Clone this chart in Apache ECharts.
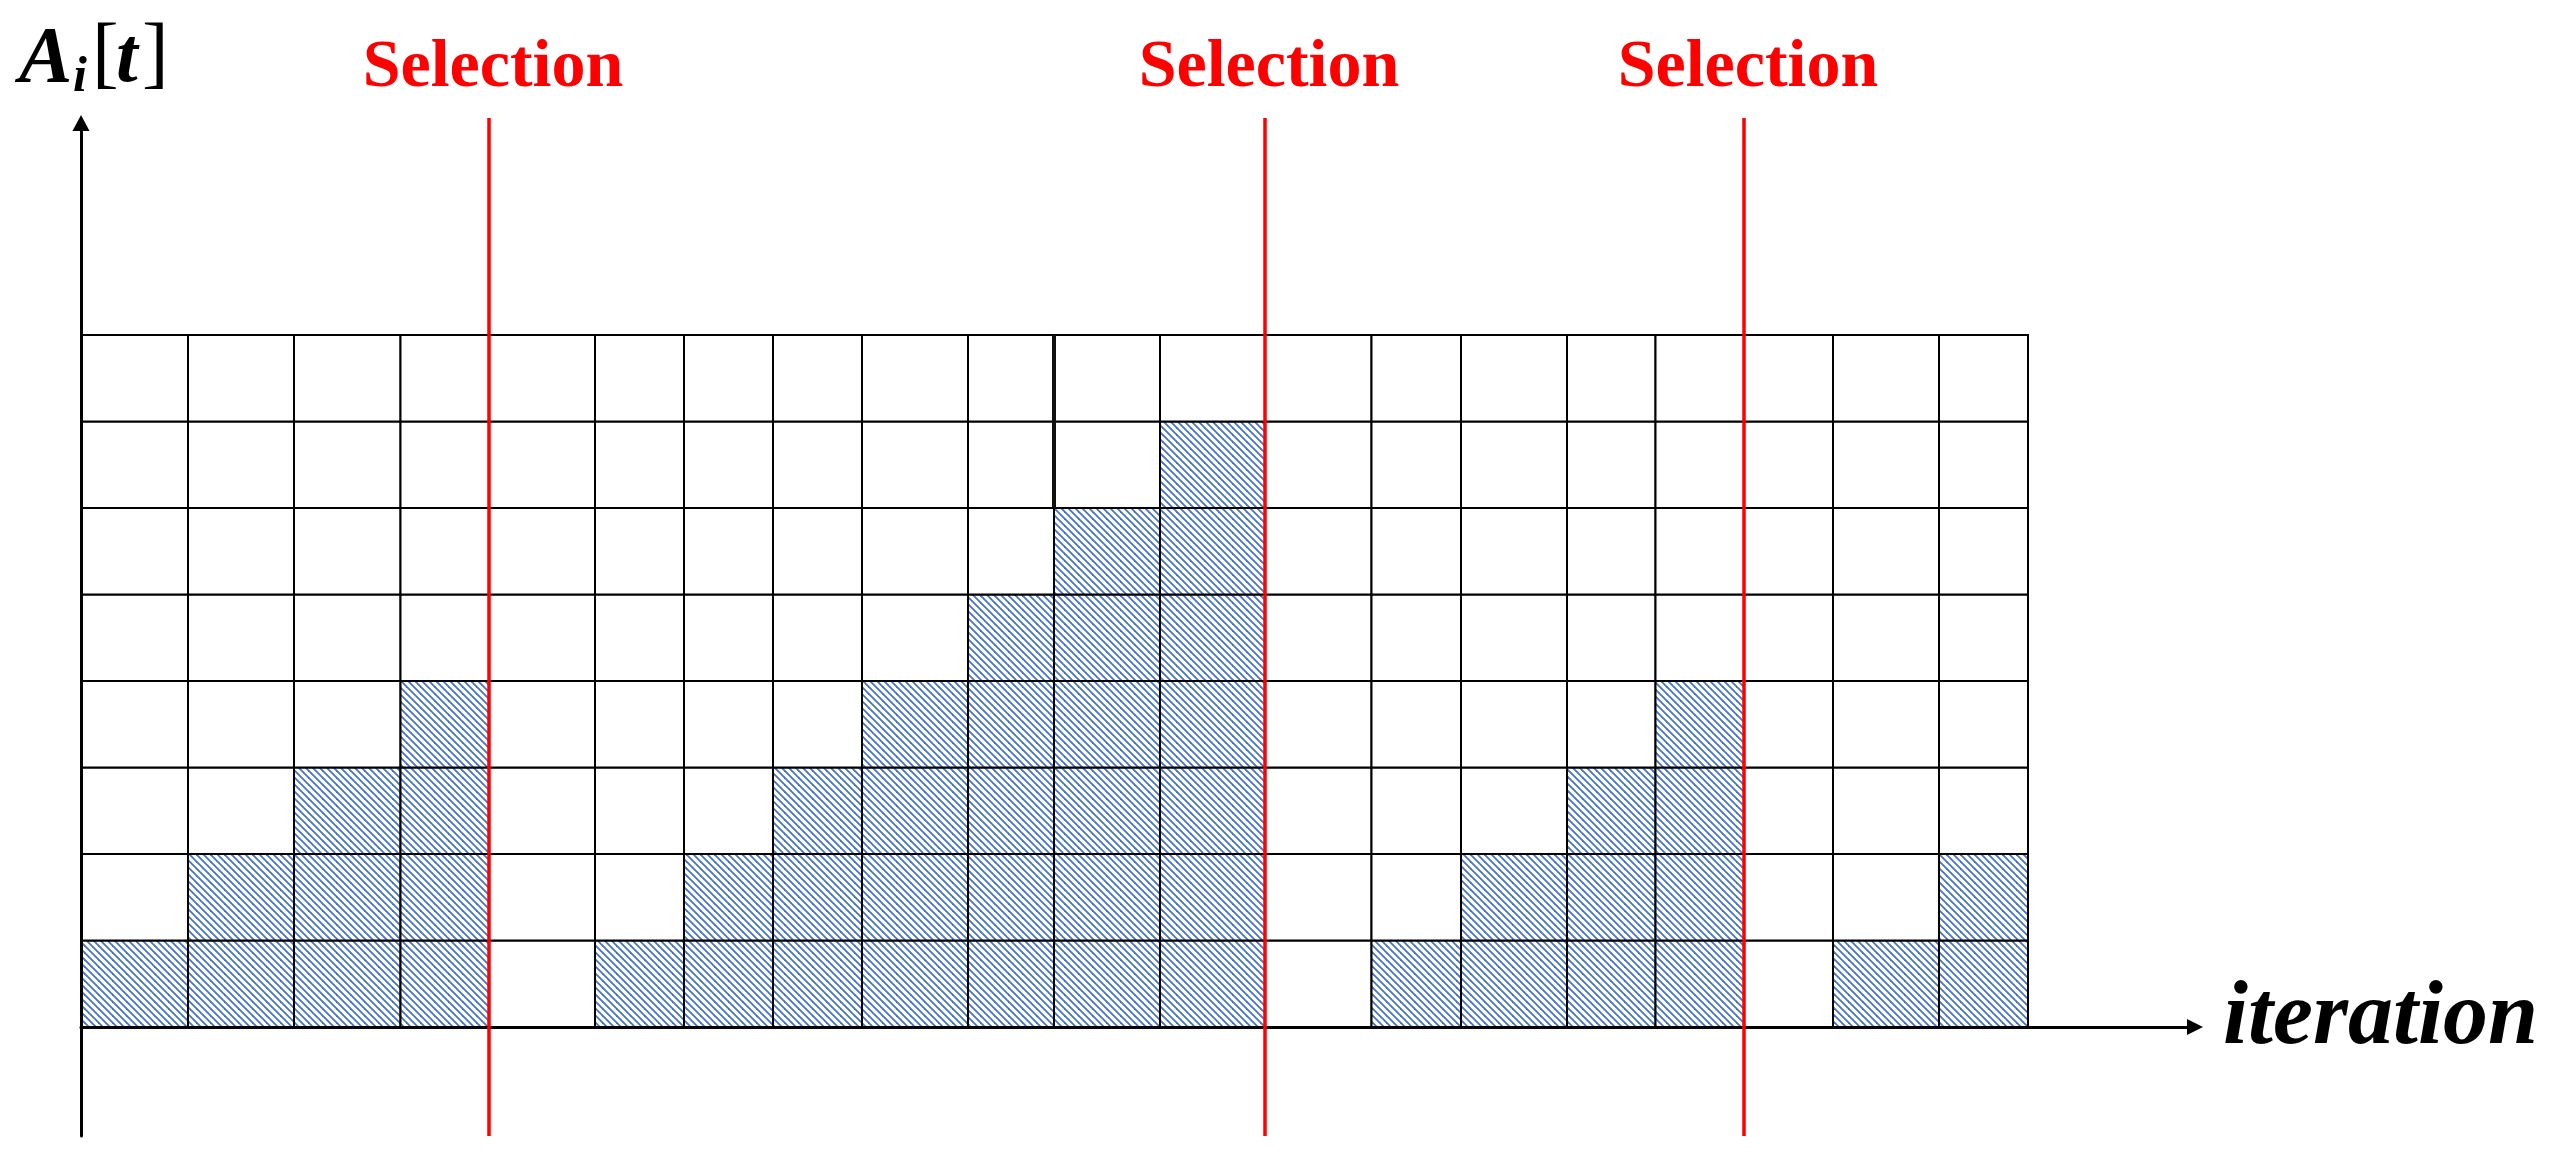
<!DOCTYPE html>
<html>
<head>
<meta charset="utf-8">
<script src="https://cdn.jsdelivr.net/npm/echarts@6.0.0/dist/echarts.min.js"></script>
<style>
html,body{margin:0;padding:0;background:#fff;}
#main{width:2564px;height:1157px;}
</style>
</head>
<body>
<div id="main"></div>
<script>
// column boundaries along the iteration axis (columns are not all equal)
var colEdges = [0, 107, 213, 319.5, 408, 514, 603, 692, 781, 887, 973, 1079, 1184, 1290.5, 1380, 1486, 1574.5, 1663, 1752, 1858, 1947];
// hatched height A_i[t] of every column
var colHeights = [1, 2, 3, 4, 0, 1, 2, 3, 4, 5, 6, 7, 0, 1, 2, 3, 4, 0, 1, 2];
var rowCount = 8;
// red selection lines, given as column boundary index
var selectionAt = [4, 12, 17];
var selectionText = ['Selection', 'Selection', 'Selection'];
// heavier stroke in the drawing: [boundary index, from row, to row]
var heavyEdges = [[10, 6, 8]];

(function(){
  var myChart = echarts.init(document.getElementById('main'));

  // hatch pattern for the filled cells
  var tile = document.createElement('canvas');
  tile.width = 14; tile.height = 14;
  var ctx = tile.getContext('2d');
  ctx.fillStyle = '#fff';
  ctx.fillRect(0, 0, 14, 14);
  ctx.strokeStyle = '#4472C4';
  ctx.lineWidth = 1.8;
  for (var k = -2; k <= 2; k++) {
    ctx.beginPath();
    ctx.moveTo(k * 7 - 2, -2);
    ctx.lineTo(k * 7 + 16, 16);
    ctx.stroke();
  }
  var hatch = { image: tile, repeat: 'repeat' };

  // one item per cell: [x0, x1, y0, y1, filled]
  var cells = [];
  for (var c = 0; c < colHeights.length; c++) {
    for (var r = 0; r < rowCount; r++) {
      cells.push([colEdges[c], colEdges[c + 1], r, r + 1, r < colHeights[c] ? 1 : 0]);
    }
  }
  var selData = selectionAt.map(function (i, n) { return [colEdges[i], n]; });
  var heavyData = heavyEdges.map(function (h) { return [colEdges[h[0]], h[1], h[2]]; });

  var yMin = -1.26, yMax = 10.451;
  var serif = "'Liberation Serif', 'Times New Roman', serif";

  var option = {
    animation: false,
    backgroundColor: '#fff',
    grid: { left: 81, top: 123, right: 369, bottom: 21 },
    xAxis: {
      type: 'value', min: 0, max: 2114, z: 4,
      axisLine: { show: true, onZero: true, symbol: ['none', 'triangle'], symbolSize: [16, 16],
        lineStyle: { color: '#000', width: 3 } },
      axisTick: { show: false }, axisLabel: { show: false }, splitLine: { show: false }
    },
    yAxis: {
      type: 'value', min: yMin, max: yMax, z: 4,
      axisLine: { show: true, onZero: true, symbol: ['none', 'triangle'], symbolSize: [17, 16],
        lineStyle: { color: '#000', width: 3 } },
      axisTick: { show: false }, axisLabel: { show: false }, splitLine: { show: false }
    },
    series: [
      {
        type: 'custom',
        data: cells,
        encode: { x: [0, 1], y: [2, 3] },
        z: 2,
        renderItem: function (params, api) {
          var p0 = api.coord([api.value(0), api.value(3)]);
          var p1 = api.coord([api.value(1), api.value(2)]);
          return {
            type: 'rect',
            shape: { x: p0[0], y: p0[1], width: p1[0] - p0[0], height: p1[1] - p0[1] },
            style: { fill: api.value(4) ? hatch : '#fff', stroke: '#000', lineWidth: 2 }
          };
        }
      },
      {
        type: 'custom',
        data: heavyData,
        encode: { x: 0, y: [1, 2] },
        z: 3,
        renderItem: function (params, api) {
          var a = api.coord([api.value(0), api.value(1)]);
          var b = api.coord([api.value(0), api.value(2)]);
          return { type: 'line', shape: { x1: a[0], y1: a[1], x2: b[0], y2: b[1] },
            style: { stroke: '#111', lineWidth: 4 } };
        }
      },
      {
        type: 'custom',
        data: selData,
        encode: { x: 0 },
        z: 5,
        clip: false,
        renderItem: function (params, api) {
          var x = api.coord([api.value(0), 0])[0];
          var bottom = api.coord([0, yMin])[1];
          var top = api.coord([0, yMax])[1] - 5;
          return {
            type: 'group',
            children: [
              { type: 'line', shape: { x1: x, y1: bottom, x2: x, y2: top },
                style: { stroke: '#FF0000', lineWidth: 3.5 } },
              { type: 'text', style: { x: x + 4, y: 68, text: selectionText[api.value(1)],
                  fill: '#FF0000', font: 'bold 68px ' + serif, align: 'center', verticalAlign: 'middle' } }
            ]
          };
        }
      }
    ],
    graphic: [
      { type: 'text', z: 10, style: { x: 19, y: 101, text: 'A', font: 'bold italic 80px ' + serif, fill: '#000', verticalAlign: 'bottom' } },
      { type: 'text', z: 10, style: { x: 73, y: 103, text: 'i', font: 'bold italic 50px ' + serif, fill: '#000', verticalAlign: 'bottom' } },
      { type: 'text', z: 10, style: { x: 92, y: 97, text: '[', font: '80px ' + serif, fill: '#000', verticalAlign: 'bottom' } },
      { type: 'text', z: 10, style: { x: 116, y: 100, text: 't', font: 'bold italic 78px ' + serif, fill: '#000', verticalAlign: 'bottom' } },
      { type: 'text', z: 10, style: { x: 142, y: 97, text: ']', font: '80px ' + serif, fill: '#000', verticalAlign: 'bottom' } },
      { type: 'text', left: 2223, top: 975, z: 10,
        style: { text: 'iteration', font: 'bold italic 90px ' + serif, fill: '#000' } }
    ]
  };
  myChart.setOption(option);
})();
</script>
</body>
</html>
